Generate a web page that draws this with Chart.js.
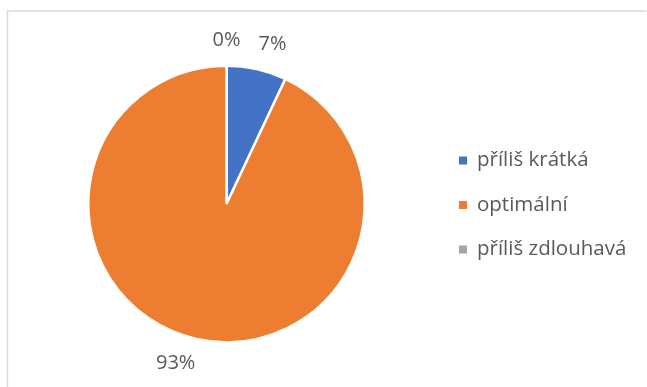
<!DOCTYPE html>
<html>
<head>
<meta charset="utf-8">
<script src="https://cdn.jsdelivr.net/npm/chart.js@4/dist/chart.umd.min.js"></script>
<style>
  html, body { margin: 0; padding: 0; background: #ffffff; }
  #wrap { width: 647px; height: 387px; position: relative; }
</style>
</head>
<body>
<div id="wrap"><canvas id="c" width="647" height="387"></canvas></div>
<script>
// Categories and shares (percent)
const categories = ['příliš krátká', 'optimální', 'příliš zdlouhavá'];
const shares = [7, 93, 0];
const sliceColors = ['#4472C4', '#ED7D31', '#A5A5A5'];

const FONT = '"Open Sans", "Noto Sans", sans-serif';
const TEXT_COLOR = '#595959';

// Frame around the chart area and white background
const framePlugin = {
  id: 'frame',
  beforeDraw(chart) {
    const ctx = chart.ctx;
    ctx.save();
    ctx.fillStyle = '#ffffff';
    ctx.fillRect(0, 0, chart.width, chart.height);
    ctx.strokeStyle = '#D9D9D9';
    ctx.lineWidth = 1.5;
    ctx.beginPath();
    ctx.moveTo(7.5, 400);
    ctx.lineTo(7.5, 11);
    ctx.lineTo(646.5, 11);
    ctx.stroke();
    ctx.restore();
  }
};

// Percentage labels placed just outside each slice
const outsideLabels = {
  id: 'outsideLabels',
  afterDatasetsDraw(chart) {
    const ctx = chart.ctx;
    const meta = chart.getDatasetMeta(0);
    ctx.save();
    ctx.font = '20px ' + FONT;
    ctx.fillStyle = TEXT_COLOR;
    ctx.textAlign = 'center';
    ctx.textBaseline = 'middle';
    meta.data.forEach((arc, i) => {
      const p = arc.getProps(['x', 'y', 'startAngle', 'endAngle', 'outerRadius'], true);
      const mid = (p.startAngle + p.endAngle) / 2;
      const cx = Math.cos(mid), sy = Math.sin(mid);
      const d = p.outerRadius + 18;
      const ax = p.x + cx * d, ay = p.y + sy * d;
      const text = shares[i] + '%';
      const w = ctx.measureText(text).width;
      const sx = Math.abs(cx) < 0.05 ? 0 : Math.sign(cx);
      const sv = Math.abs(sy) < 0.05 ? 0 : Math.sign(sy);
      ctx.fillText(text, ax + sx * w / 2 * 0.85, ay + sv * 7);
    });
    ctx.restore();
  }
};

// Legend on the right: small squares with category names
const sideLegend = {
  id: 'sideLegend',
  afterDraw(chart) {
    const ctx = chart.ctx;
    ctx.save();
    ctx.font = '20.5px ' + FONT;
    ctx.textBaseline = 'middle';
    ctx.textAlign = 'left';
    const x0 = 459, y0 = 160.5, step = 44.5;
    categories.forEach((name, i) => {
      const y = y0 + i * step;
      ctx.fillStyle = sliceColors[i];
      ctx.fillRect(x0, y - 4, 8, 8);
      ctx.fillStyle = TEXT_COLOR;
      ctx.fillText(name, x0 + 18, y);
    });
    ctx.restore();
  }
};

new Chart(document.getElementById('c'), {
  type: 'pie',
  data: {
    labels: categories,
    datasets: [{
      data: shares,
      backgroundColor: sliceColors,
      borderColor: '#ffffff',
      borderWidth: 2.5
    }]
  },
  options: {
    responsive: false,
    animation: false,
    layout: { padding: { top: 64, bottom: 43, left: 87, right: 281 } },
    plugins: {
      legend: { display: false },
      tooltip: { enabled: false },
      title: { display: false }
    }
  },
  plugins: [framePlugin, outsideLabels, sideLegend]
});
</script>
</body>
</html>
